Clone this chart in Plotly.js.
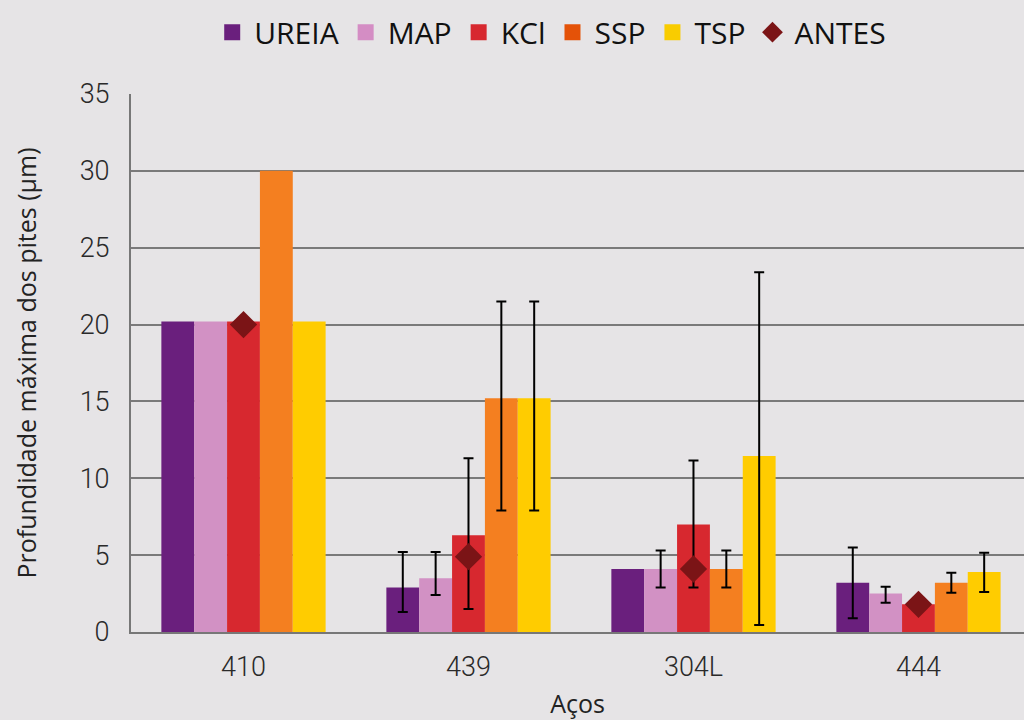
<!DOCTYPE html>
<html><head><meta charset="utf-8">
<script src="https://cdn.plot.ly/plotly-3.0.1.min.js"></script>
<style>html,body{margin:0;padding:0;overflow:hidden;background:#e6e4e6}</style>
</head><body>
<div id="chart" style="width:1024px;height:720px"></div>
<script>
const categories = ['410', '439', '304L', '444'];
const seriesNames = ['UREIA', 'MAP', 'KCl', 'SSP', 'TSP'];
const ureia = [20.2, 2.9, 4.1, 3.2];
const ureiaErrHigh = [NaN, 5.2, NaN, 5.5];
const ureiaErrLow = [NaN, 1.3, NaN, 0.9];
const map = [20.2, 3.5, 4.1, 2.5];
const mapErrHigh = [NaN, 5.2, 5.3, 2.95];
const mapErrLow = [NaN, 2.4, 2.9, 1.9];
const kcl = [20.2, 6.3, 7.0, 1.8];
const kclErrHigh = [NaN, 11.3, 11.15, NaN];
const kclErrLow = [NaN, 1.5, 2.9, NaN];
const ssp = [30.0, 15.2, 4.1, 3.2];
const sspErrHigh = [NaN, 21.5, 5.3, 3.85];
const sspErrLow = [NaN, 7.9, 2.9, 2.55];
const tsp = [20.2, 15.2, 11.45, 3.9];
const tspErrHigh = [NaN, 21.5, 23.4, 5.15];
const tspErrLow = [NaN, 7.9, 0.45, 2.6];
const antes = [20.0, 4.9, 4.1, 1.8];

const colors = ['#6A1F7D', '#D291C4', '#D7282F', '#F47F20', '#FFCC00'];
const legendColors = ['#6A1F7D', '#D48DC4', '#D7282F', '#E45208', '#F9CC00'];
const allVals = [ureia, map, kcl, ssp, tsp];
const highs = [ureiaErrHigh, mapErrHigh, kclErrHigh, sspErrHigh, tspErrHigh];
const lows = [ureiaErrLow, mapErrLow, kclErrLow, sspErrLow, tspErrLow];

const traces = allVals.map((vals, i) => ({
  type: 'bar',
  name: seriesNames[i],
  legendgroup: seriesNames[i],
  showlegend: false,
  x: categories,
  y: vals,
  marker: {color: colors[i]},
  error_y: {
    type: 'data', symmetric: false,
    array: vals.map((v, j) => highs[i][j] - v),
    arrayminus: vals.map((v, j) => v - lows[i][j]),
    color: '#000', thickness: 2, width: 5
  }
}));
// legend entries with larger square swatches
seriesNames.forEach((n, i) => {
  traces.push({
    type: 'scatter', mode: 'markers', name: n, legendgroup: n,
    x: categories, y: categories.map(() => null),
    marker: {symbol: 'square', size: 16, color: legendColors[i]},
    hoverinfo: 'skip'
  });
});
traces.push({
  type: 'scatter', mode: 'markers', name: 'ANTES',
  x: categories, y: antes,
  marker: {symbol: 'diamond', size: 21, color: '#7B1416'}
});

const tickFont = {size: 27, color: '#2a2a2a', family: 'Roboto, Open Sans, sans-serif', weight: 300};

const layout = {
  width: 1024, height: 720,
  paper_bgcolor: '#e6e4e6', plot_bgcolor: 'rgba(0,0,0,0)',
  margin: {l: 131, r: 0, t: 94, b: 88},
  barmode: 'group', bargap: 0.27, bargroupgap: 0,
  font: {family: 'Open Sans, sans-serif', color: '#222'},
  showlegend: true,
  legend: {orientation: 'h', x: 0.47, xanchor: 'center', y: 1.115, yanchor: 'middle',
           font: {size: 30, color: '#111', family: 'Open Sans, sans-serif'},
           bgcolor: 'rgba(0,0,0,0)', itemwidth: 34, tracegroupgap: 0},
  xaxis: {
    type: 'category', range: [-0.5, 3.469],
    tickfont: tickFont,
    showline: true, linecolor: '#777', linewidth: 2, ticks: '', ticklabelstandoff: 10,
    title: {text: 'Aços', font: {size: 25, color: '#222'}, standoff: 20}
  },
  yaxis: {
    range: [0, 35], dtick: 5, tick0: 0,
    tickfont: tickFont,
    showgrid: true, gridcolor: '#7a7a7a', gridwidth: 1.5,
    showline: true, linecolor: '#777', linewidth: 2, ticks: '',
    zeroline: false, ticklabelstandoff: 14,
    title: {text: 'Profundidade máxima dos pites (µm)', font: {size: 25, color: '#222'}, standoff: 36}
  }
};
Plotly.newPlot('chart', traces, layout, {displayModeBar: false});
</script>
</body></html>
